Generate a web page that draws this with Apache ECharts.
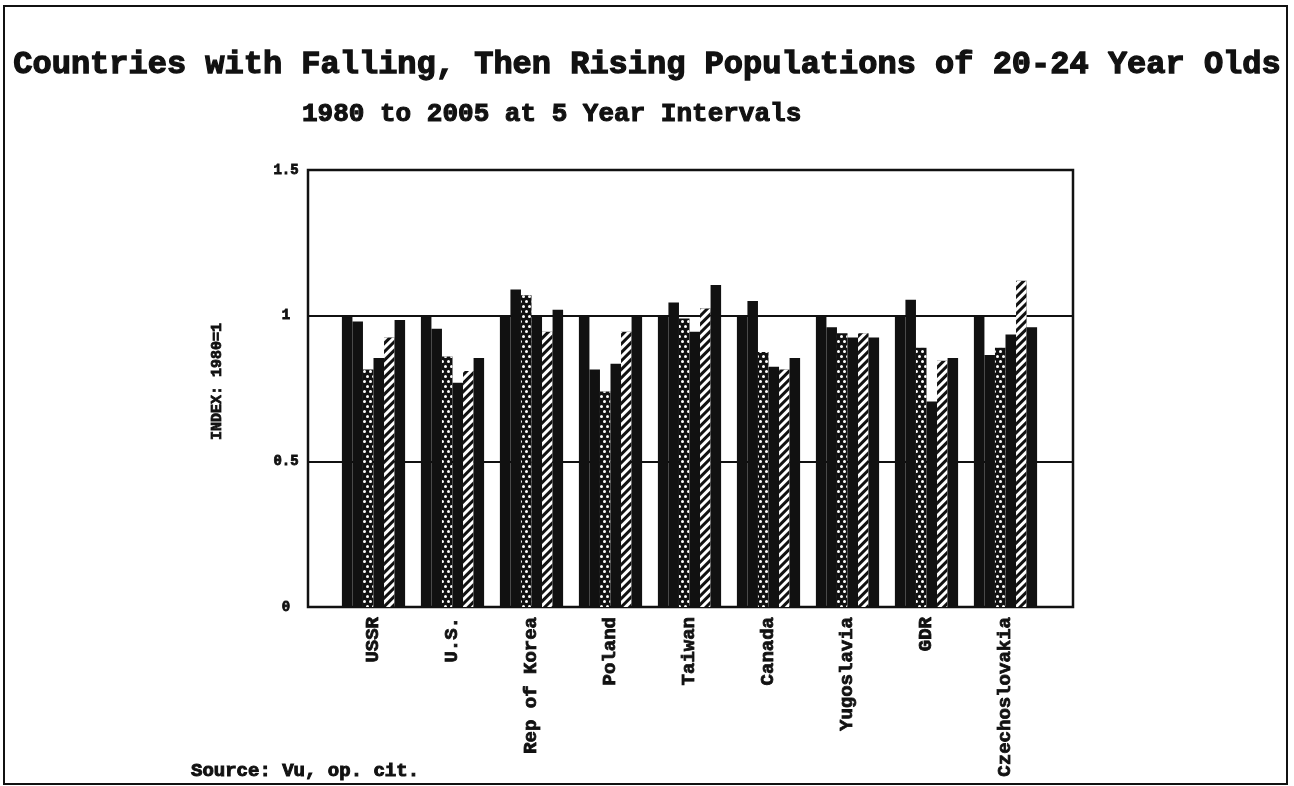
<!DOCTYPE html>
<html>
<head>
<meta charset="utf-8">
<style>
  html, body { margin: 0; padding: 0; background: #fff; }
  #chart { width: 1294px; height: 786px; }
</style>
<script src="https://cdn.jsdelivr.net/npm/echarts@6/dist/echarts.min.js"></script>
</head>
<body>
<div id="chart"></div>
<script>
// values, index 1980 = 1
var countries = ['USSR', 'U.S.', 'Rep of Korea', 'Poland', 'Taiwan', 'Canada', 'Yugoslavia', 'GDR', 'Czechoslovakia'];
var years = ['1980', '1985', '1990', '1995', '2000', '2005'];
var idx1980 = [1, 1, 1, 1, 1, 1, 1, 1, 1];
var idx1985 = [0.98, 0.955, 1.09, 0.815, 1.045, 1.05, 0.96, 1.055, 0.865];
var idx1990 = [0.815, 0.86, 1.07, 0.74, 0.99, 0.875, 0.94, 0.89, 0.89];
var idx1995 = [0.855, 0.77, 1.0, 0.835, 0.945, 0.825, 0.925, 0.705, 0.935];
var idx2000 = [0.925, 0.81, 0.945, 0.945, 1.025, 0.815, 0.94, 0.845, 1.12];
var idx2005 = [0.985, 0.855, 1.02, 1.0, 1.105, 0.855, 0.925, 0.855, 0.96];
var yTicks = [0, 0.5, 1, 1.5];

(function () {
  'use strict';

  var FONT = '"Liberation Mono", "Courier New", monospace';
  var INK = '#111';

  var dots = {
    symbol: 'circle', symbolSize: 1, color: '#fff',
    dashArrayX: [[3, 3], [0, 3, 3, 0]], dashArrayY: [3, 2]
  };
  var stripes = {
    symbol: 'rect', symbolSize: 1, color: '#fff',
    dashArrayX: [1, 0], dashArrayY: [3, 3], rotation: -Math.PI / 4
  };

  function barSeries(name, data, decal) {
    var style = { color: INK };
    if (decal) style.decal = decal;
    return {
      name: name,
      type: 'bar',
      xAxisIndex: 1,
      yAxisIndex: 1,
      data: data,
      barGap: '0%',
      barCategoryGap: '20%',
      itemStyle: style
    };
  }

  function heavy(size, weight) {
    return {
      fontFamily: FONT, fontWeight: 'bold', fontSize: size, color: INK,
      textBorderColor: INK, textBorderWidth: weight || 0.8
    };
  }

  var chart = echarts.init(document.getElementById('chart'));
  chart.setOption({
    animation: false,
    backgroundColor: '#fff',
    title: [
      {
        text: 'Countries with Falling, Then Rising Populations of 20-24 Year Olds',
        left: 'center', top: 44,
        textStyle: heavy(32, 1.3)
      },
      {
        text: '1980 to 2005 at 5 Year Intervals',
        left: 297, top: 96,
        textStyle: heavy(26, 1.1)
      },
      {
        text: 'Source: Vu, op. cit.',
        left: 186, top: 757,
        textStyle: heavy(19, 1)
      }
    ],
    graphic: [{
      type: 'rect',
      shape: { x: 4, y: 6, width: 1283, height: 778 },
      style: { fill: 'none', stroke: INK, lineWidth: 2 },
      silent: true
    }],
    grid: [
      { left: 308, top: 170, width: 765, height: 437, show: true, borderColor: INK, borderWidth: 2.5 },
      { left: 334, top: 170, width: 711, height: 437 }
    ],
    xAxis: [
      { type: 'value', gridIndex: 0, show: false },
      {
        type: 'category', gridIndex: 1, data: countries,
        axisLine: { show: false }, axisTick: { show: false },
        axisLabel: Object.assign({ rotate: 90, margin: 10, interval: 0 }, heavy(19))
      }
    ],
    yAxis: [
      {
        type: 'value', gridIndex: 0, min: yTicks[0], max: yTicks[yTicks.length - 1], interval: 0.5,
        name: 'INDEX: 1980=1', nameLocation: 'middle', nameGap: 83,
        nameTextStyle: Object.assign({ padding: [0, 0, 0, 14] }, heavy(15)),
        axisLine: { show: false }, axisTick: { show: false },
        axisLabel: Object.assign({ margin: 22, align: 'center' }, heavy(14)),
        splitLine: { lineStyle: { color: INK, width: 2 } }
      },
      { type: 'value', gridIndex: 1, min: 0, max: 1.5, show: false, splitLine: { show: false } }
    ],
    series: [
      barSeries(years[0], idx1980),
      barSeries(years[1], idx1985),
      barSeries(years[2], idx1990, dots),
      barSeries(years[3], idx1995),
      barSeries(years[4], idx2000, stripes),
      barSeries(years[5], idx2005)
    ]
  });
})();
</script>
</body>
</html>
